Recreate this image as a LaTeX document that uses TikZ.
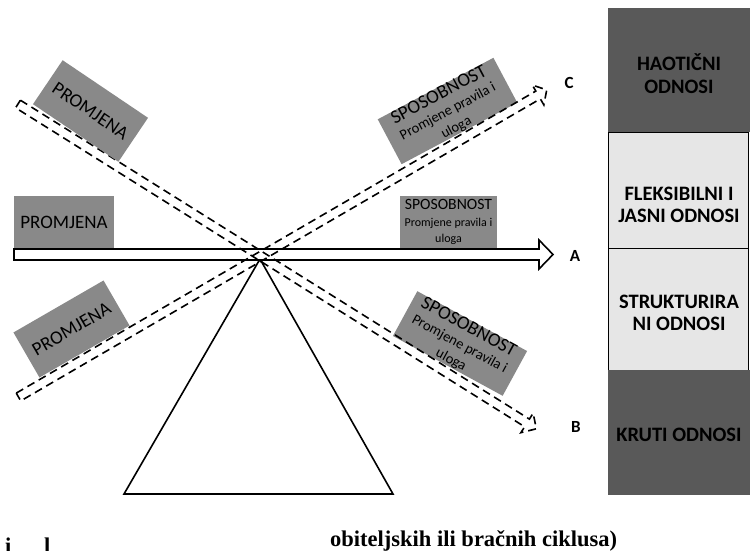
\documentclass[tikz,border=0pt]{standalone}
\usepackage{fontspec}
\setmainfont{Carlito}
\newfontfamily\bottomserif{Liberation Serif}
\usetikzlibrary{calc}
\definecolor{boxgray}{HTML}{898989}
\definecolor{bandDark}{HTML}{595959}
\definecolor{bandLight}{HTML}{E6E6E6}
\begin{document}
\begin{tikzpicture}[x=1pt,y=-1pt,
  graybox/.style={fill=boxgray, draw=none, inner sep=0pt, align=center, font=\fontsize{19}{20}\selectfont},
  sposbox/.style={fill=boxgray, draw=none, inner sep=0pt, align=center, font=\fontsize{14.5}{18}\selectfont},
  dasharrow/.style={draw=black, line width=1.6pt, dash pattern=on 8pt off 5pt, line join=miter},
  solidline/.style={draw=black, line width=1.6pt, line join=miter},
  darkband/.style={fill=bandDark, draw=none, minimum width=142pt, inner sep=0pt},
  lightband/.style={fill=bandLight, draw=black, line width=0.9pt, minimum width=140pt, inner sep=0pt},
  bandtext/.style={align=center, inner sep=0pt, font=\bfseries\fontsize{20.5}{22.5}\selectfont},
  lbl/.style={inner sep=0pt, font=\bfseries\fontsize{17}{17}\selectfont},
  captext/.style={anchor=base west, inner sep=0pt, font=\bottomserif\bfseries\fontsize{22.5}{22.5}\selectfont}
]
\useasboundingbox (0,0) rectangle (750,551);

% right column
\node[darkband, minimum height=124pt] (haot) at (679,70) {};
\node[lightband, minimum height=116pt] (fleks) at (678,190) {};
\node[lightband, minimum height=122pt] (strukt) at (678,309) {};
\node[darkband, minimum height=125pt] (kruti) at (679,432.5) {};
\node[bandtext] (thaot) at (679,73.5) {HAOTIČNI\\ODNOSI};
\node[bandtext] (tfleks) at (679,205) {FLEKSIBILNI I\\JASNI ODNOSI};
\node[bandtext] (tstrukt) at (679,313) {STRUKTURIRA\\NI ODNOSI};
\node[bandtext] (tkruti) at (679,435) {KRUTI ODNOSI};

% triangle (fulcrum)
\coordinate (apex) at (260,259);
\coordinate (bl) at (124,494);
\coordinate (br) at (393,494);
\draw[solidline] (apex) -- (bl) -- (br) -- cycle;

% horizontal block arrow A
\coordinate (hs) at (14,254.5);
\coordinate (htip) at (553,254.5);
\draw[solidline, fill=white] (14,249) -- (539,249) -- (539,240) -- (htip) -- (539,269) -- (539,260) -- (14,260) -- cycle;

% gray boxes (below the dashed arrows)
\node[graybox, minimum width=100pt, minimum height=52pt] (ph) at (64,222) {PROMJENA};
\node[sposbox, minimum width=97pt, minimum height=52pt, font=\fontsize{12}{16.5}\selectfont] (sh) at (448.5,222)
  {{\fontsize{15.7}{16.5}\selectfont SPOSOBNOST}\\Promjene pravila i\\uloga};
\node[graybox, minimum width=104pt, minimum height=52pt, rotate=30] (pb) at (71.5,329) {PROMJENA};
\node[sposbox, minimum width=131pt, minimum height=50pt, rotate=28] (sc) at (447.5,111)
  {{\fontsize{19}{18}\selectfont SPOSOBNOST}\\Promjene pravila i\\uloga};
\node[sposbox, minimum width=125pt, minimum height=51pt, rotate=-28.6] (sb) at (460,343.5)
  {{\fontsize{19}{18}\selectfont SPOSOBNOST}\\Promjene pravila i\\uloga};

% dashed block arrow towards B
\begin{scope}[shift={(18,104)}, rotate=-32.07]
  \draw[dasharrow] (0,-4.5) -- (600.7,-4.5) -- (600.7,-11.5) -- (611.7,0) -- (600.7,11.5) -- (600.7,4.5) -- (0,4.5) -- cycle;
\end{scope}
% dashed block arrow towards C
\begin{scope}[shift={(18.5,397)}, rotate=30.17]
  \draw[dasharrow] (0,-4.5) -- (601,-4.5) -- (601,-11.5) -- (611,0) -- (601,11.5) -- (601,4.5) -- (0,4.5) -- cycle;
\end{scope}

% upper-left box lies over its dashed line
\node[graybox, minimum width=103pt, minimum height=53pt, rotate=-34] (pa) at (90.5,111) {PROMJENA};

% labels
\node[lbl] (lc) at (569,83) {C};
\node[lbl] (la) at (575,256) {A};
\node[lbl] (lb) at (576,427) {B};

% bottom text
\node[captext] (cap) at (330,546) {obiteljskih ili bračnih ciklusa)};
\node[captext] (ci) at (5,553) {i};
\node[captext] (cl) at (44,553) {l};
\end{tikzpicture}
\end{document}
